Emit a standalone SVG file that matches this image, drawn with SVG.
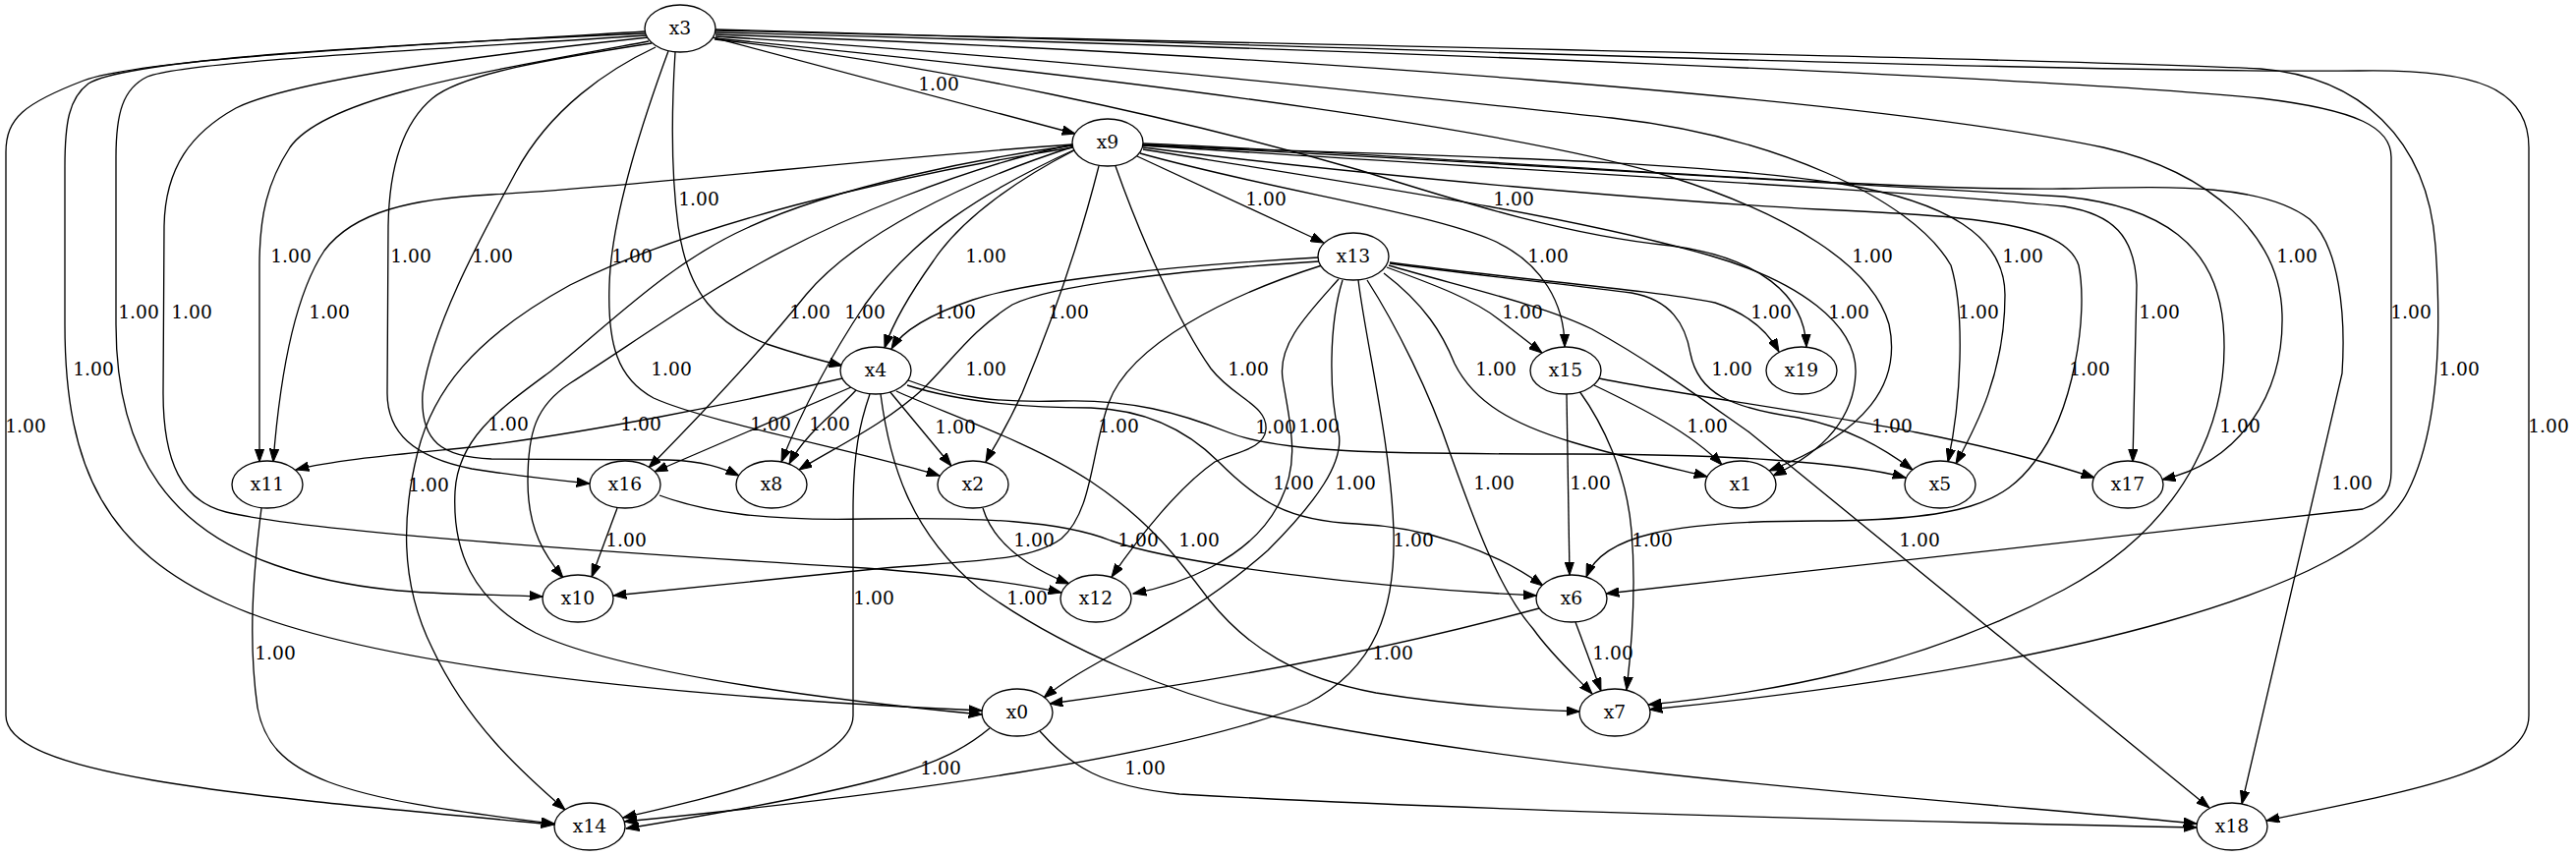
<svg xmlns="http://www.w3.org/2000/svg" width="2621" height="871" viewBox="0 0 2621 871">
<style>
.e path{fill:none;stroke:#000;stroke-width:1.33;marker-end:url(#ah)}
text{font-family:"DejaVu Serif","Liberation Serif",serif;font-size:18.67px;text-anchor:middle;fill:#000}
.n ellipse{fill:#fff;stroke:#000;stroke-width:1.33}
</style>
<defs>
<marker id="ah" viewBox="0 0 14 10" markerWidth="14" markerHeight="10" refX="13.3" refY="5" orient="auto" markerUnits="userSpaceOnUse">
<path d="M0,0.3 L13.3,5 L0,9.7 z" fill="#000" stroke="#000" stroke-width="1"/>
</marker>
</defs>
<rect width="2621" height="871" fill="#fff"/>
<g id="edges">
<g class="e" id="e3_9"><path d="M725,38 L1094,136"/><text x="955" y="92">1.00</text></g>
<g class="e" id="e3_4"><path d="M687,53 C684,100 682,170 690,230 C700,300 730,330 780,350 C810,360 835,367 857,372"/><text x="711" y="209">1.00</text></g>
<g class="e" id="e3_2"><path d="M680,52 C655,120 622,220 620,290 C618,350 628,385 665,405 C720,430 880,460 956,484"/><text x="643" y="267">1.00</text></g>
<g class="e" id="e3_8"><path d="M667,48 C620,70 560,110 525,175 C490,240 440,330 430,400 C427,450 450,465 500,467 L680,468 C715,469 735,476 752,484"/><text x="501" y="267">1.00</text></g>
<g class="e" id="e3_16"><path d="M663,44 C560,60 470,75 440,100 C410,125 396,170 395,230 L394,400 C394,440 420,465 480,477 C530,485 570,489 600,492"/><text x="418" y="267">1.00</text></g>
<g class="e" id="e3_11"><path d="M660,42 C480,75 330,100 295,150 C272,185 264,220 264,270 L264,470"/><text x="296" y="267">1.00</text></g>
<g class="e" id="e3_12"><path d="M660,38 C500,55 300,80 240,110 C195,135 168,170 167,230 L166,400 C166,470 185,510 230,521 C300,538 550,558 880,578 C960,584 1030,592 1080,603"/><text x="195" y="324">1.00</text></g>
<g class="e" id="e3_10"><path d="M658,36 C450,50 190,62 150,78 C125,90 118,115 118,160 L118,330 C118,470 180,540 280,575 S480,603 552,607"/><text x="141" y="324">1.00</text></g>
<g class="e" id="e3_0"><path d="M657,34 C400,45 130,60 90,85 C70,100 66,125 66,170 L66,330 C66,480 110,560 230,614 S600,705 999,723"/><text x="95" y="382">1.00</text></g>
<g class="e" id="e3_14"><path d="M656,32 C450,45 150,58 85,82 C25,105 6,120 6,155 L6,728 C6,790 250,810 564,839"/><text x="26" y="440">1.00</text></g>
<g class="e" id="e3_19"><path d="M727,40 C950,65 1200,120 1383,173 C1500,210 1600,240 1700,250 C1790,262 1836,300 1838,353"/><text x="1540" y="209">1.00</text></g>
<g class="e" id="e3_1"><path d="M728,39 C1200,85 1550,135 1700,180 C1820,218 1905,270 1922,330 C1935,390 1900,440 1800,479"/><text x="1905" y="267">1.00</text></g>
<g class="e" id="e3_5"><path d="M728,37 C1100,60 1450,100 1640,120 C1800,138 1945,200 1985,270 C2000,320 1995,410 1982,470"/><text x="2058" y="267">1.00</text></g>
<g class="e" id="e3_17"><path d="M728,35 C1300,55 1900,100 2140,150 C2250,175 2320,240 2322,320 C2324,400 2280,470 2200,488"/><text x="2337" y="267">1.00</text></g>
<g class="e" id="e3_6"><path d="M728,33 C1400,50 2100,80 2300,100 C2400,112 2433,130 2433,160 L2433,480 C2433,500 2425,510 2404,518 L1634,604"/><text x="2453" y="324">1.00</text></g>
<g class="e" id="e3_7"><path d="M728,31 C1300,45 2100,60 2300,70 C2400,78 2470,140 2478,250 C2485,350 2480,440 2450,500 C2400,600 2100,680 1678,722"/><text x="2502" y="382">1.00</text></g>
<g class="e" id="e3_18"><path d="M728,30 C1300,45 2100,75 2400,72 C2520,70 2573,90 2573,150 L2573,728 C2573,785 2450,805 2306,835"/><text x="2593" y="440">1.00</text></g>
<g class="e" id="e9_13"><path d="M1157,159 L1347,247"/><text x="1288" y="209">1.00</text></g>
<g class="e" id="e9_4"><path d="M1093,153 C1040,180 980,220 950,265 C925,300 908,330 900,354"/><text x="1003" y="267">1.00</text></g>
<g class="e" id="e9_2"><path d="M1118,169 C1095,260 1065,340 1040,400 C1022,440 1009,458 1003,470"/><text x="1087" y="324">1.00</text></g>
<g class="e" id="e9_8"><path d="M1094,152 C1000,195 930,240 880,310 C840,370 815,420 795,470"/><text x="880" y="324">1.00</text></g>
<g class="e" id="e9_16"><path d="M1093,149 C980,185 870,240 820,300 C780,350 715,420 660,476"/><text x="824" y="324">1.00</text></g>
<g class="e" id="e9_10"><path d="M1092,147 C980,170 850,225 773,268 S650,345 580,390 C545,413 537,440 537,490 C537,540 555,566 573,588"/><text x="683" y="382">1.00</text></g>
<g class="e" id="e9_0"><path d="M1092,148 C1000,160 850,190 760,232 C680,268 620,330 560,378 C510,415 466,445 463,500 C460,560 480,610 545,644 C620,680 800,708 999,727"/><text x="517" y="438">1.00</text></g>
<g class="e" id="e9_14"><path d="M1092,150 C900,180 700,230 580,290 C480,345 440,400 425,460 C410,520 405,590 440,660 C475,735 530,785 575,824"/><text x="436" y="500">1.00</text></g>
<g class="e" id="e9_11"><path d="M1091,147 C900,160 650,190 500,198 C420,202 360,215 330,255 C300,300 285,380 278,470"/><text x="335" y="324">1.00</text></g>
<g class="e" id="e9_12"><path d="M1135,169 C1160,240 1200,330 1232,375 C1255,405 1290,412 1288,437 C1286,458 1255,460 1236,470 C1200,495 1160,545 1131,587"/><text x="1270" y="382">1.00</text></g>
<g class="e" id="e9_15"><path d="M1160,156 C1300,195 1450,215 1520,245 C1570,268 1592,310 1592,353"/><text x="1575" y="267">1.00</text></g>
<g class="e" id="e9_1"><path d="M1163,152 C1400,190 1600,220 1740,260 C1830,286 1890,330 1888,380 C1886,430 1850,462 1804,484"/><text x="1881" y="324">1.00</text></g>
<g class="e" id="e9_5"><path d="M1163,148 C1400,158 1700,160 1873,187 C1980,205 2040,240 2040,300 C2040,380 2010,435 1990,472"/><text x="2013" y="324">1.00</text></g>
<g class="e" id="e9_6"><path d="M1163,150 C1400,180 1700,205 1850,213 C2000,220 2100,225 2115,270 C2125,320 2110,420 2070,470 C2040,510 2000,530 1850,530 C1700,530 1630,545 1614,587"/><text x="2126" y="382">1.00</text></g>
<g class="e" id="e9_17"><path d="M1163,148 C1500,170 1950,195 2100,210 C2150,218 2172,240 2174,290 L2170,470"/><text x="2197" y="324">1.00</text></g>
<g class="e" id="e9_7"><path d="M1163,147 C1500,165 1950,190 2100,200 C2200,210 2255,250 2262,330 C2270,420 2230,530 2100,600 C1950,680 1800,705 1677,717"/><text x="2279" y="440">1.00</text></g>
<g class="e" id="e9_18"><path d="M1163,146 C1500,160 1900,195 2100,192 C2200,190 2300,185 2350,223 C2380,250 2387,320 2383,380 L2281,818"/><text x="2393" y="498">1.00</text></g>
<g class="e" id="e13_4"><path d="M1341,262 C1200,270 1050,285 990,305 C940,322 916,340 907,355"/><text x="972" y="324">1.00</text></g>
<g class="e" id="e13_8"><path d="M1342,266 C1200,275 1070,290 1030,310 C990,335 970,365 940,395 C900,432 850,455 813,478"/><text x="1003" y="382">1.00</text></g>
<g class="e" id="e13_10"><path d="M1345,270 C1250,300 1150,350 1128,410 C1110,460 1112,520 1080,548 C1050,570 1000,570 900,578 C800,588 700,598 624,606"/><text x="1138" y="440">1.00</text></g>
<g class="e" id="e13_12"><path d="M1362,284 C1330,320 1300,350 1305,385 C1312,430 1325,470 1300,515 C1270,570 1200,595 1153,604"/><text x="1342" y="440">1.00</text></g>
<g class="e" id="e13_0"><path d="M1366,285 C1352,330 1352,400 1362,440 C1368,470 1340,510 1290,560 C1200,640 1110,670 1062,710"/><text x="1379" y="498">1.00</text></g>
<g class="e" id="e13_14"><path d="M1382,285 C1390,350 1415,450 1418,540 C1420,620 1400,680 1330,716 C1200,770 900,810 635,836"/><text x="1438" y="556">1.00</text></g>
<g class="e" id="e13_7"><path d="M1391,285 C1420,330 1455,400 1475,460 C1500,530 1525,600 1560,640 C1580,668 1603,688 1620,706"/><text x="1520" y="498">1.00</text></g>
<g class="e" id="e13_1"><path d="M1408,278 C1450,310 1468,340 1480,370 C1500,410 1540,432 1600,450 C1650,465 1700,476 1737,485"/><text x="1522" y="382">1.00</text></g>
<g class="e" id="e13_15"><path d="M1411,272 C1460,290 1500,305 1525,325 C1545,340 1557,350 1569,359"/><text x="1549" y="324">1.00</text></g>
<g class="e" id="e13_19"><path d="M1414,267 C1550,285 1680,295 1745,308 C1775,318 1797,334 1810,358"/><text x="1802" y="324">1.00</text></g>
<g class="e" id="e13_5"><path d="M1414,268 C1500,280 1600,290 1660,298 C1700,305 1715,330 1720,360 C1728,400 1760,415 1830,425 C1880,435 1915,455 1946,478"/><text x="1762" y="382">1.00</text></g>
<g class="e" id="e13_18"><path d="M1413,270 C1480,290 1570,310 1620,335 C1680,368 1730,405 1780,440 L2248,822"/><text x="1953" y="556">1.00</text></g>
<g class="e" id="e4_11"><path d="M857,385 C750,410 600,440 480,455 C400,463 340,468 301,478"/><text x="652" y="438">1.00</text></g>
<g class="e" id="e4_16"><path d="M866,394 L666,480"/><text x="784" y="438">1.00</text></g>
<g class="e" id="e4_8"><path d="M871,397 C850,420 820,440 803,472"/><text x="844" y="438">1.00</text></g>
<g class="e" id="e4_2"><path d="M905,398 L968,474"/><text x="972" y="441">1.00</text></g>
<g class="e" id="e4_5"><path d="M924,387 C970,405 1020,410 1080,408 C1150,406 1200,420 1250,440 C1300,460 1400,462 1600,462 C1750,462 1880,470 1939,486"/><text x="1298" y="441">1.00</text></g>
<g class="e" id="e4_6"><path d="M923,392 C980,410 1050,415 1110,415 C1170,417 1210,440 1240,470 C1280,510 1310,530 1380,533 C1450,536 1520,560 1570,596"/><text x="1316" y="498">1.00</text></g>
<g class="e" id="e4_7"><path d="M912,398 C960,420 1050,450 1110,490 C1170,530 1200,570 1230,610 C1270,660 1320,690 1400,705 C1480,718 1550,722 1607,724"/><text x="1220" y="556">1.00</text></g>
<g class="e" id="e4_14"><path d="M885,401 C875,430 868,460 868,520 L868,728 C868,780 720,812 634,832"/><text x="889" y="615">1.00</text></g>
<g class="e" id="e4_18"><path d="M896,401 C905,470 925,540 995,598 C1080,660 1200,710 1300,730 C1600,790 2000,815 2235,838"/><text x="1045" y="615">1.00</text></g>
<g class="e" id="e15_6"><path d="M1594,401 L1597,585"/><text x="1618" y="498">1.00</text></g>
<g class="e" id="e15_7"><path d="M1607,398 C1630,430 1655,480 1660,540 C1665,600 1660,660 1655,702"/><text x="1681" y="556">1.00</text></g>
<g class="e" id="e15_1"><path d="M1622,392 C1670,415 1720,440 1752,473"/><text x="1737" y="440">1.00</text></g>
<g class="e" id="e15_17"><path d="M1627,385 C1700,400 1850,420 1950,440 C2050,460 2100,476 2131,486"/><text x="1925" y="440">1.00</text></g>
<g class="e" id="e11_14"><path d="M266,517 C258,580 252,650 262,720 C275,790 340,812 564,838"/><text x="280" y="671">1.00</text></g>
<g class="e" id="e16_10"><path d="M628,517 L602,587"/><text x="637" y="556">1.00</text></g>
<g class="e" id="e16_6"><path d="M671,504 C720,522 780,530 880,528 C1000,526 1080,530 1130,550 C1200,575 1400,598 1563,606"/><text x="1158" y="556">1.00</text></g>
<g class="e" id="e2_12"><path d="M1000,517 C1010,550 1040,575 1088,594"/><text x="1052" y="556">1.00</text></g>
<g class="e" id="e6_0"><path d="M1566,619 C1450,650 1300,685 1068,716"/><text x="1417" y="671">1.00</text></g>
<g class="e" id="e6_7"><path d="M1603,633 L1629,703"/><text x="1641" y="671">1.00</text></g>
<g class="e" id="e0_14"><path d="M1007,741 C960,780 900,800 637,843"/><text x="957" y="788">1.00</text></g>
<g class="e" id="e0_18"><path d="M1058,744 C1090,780 1120,800 1200,808 C1500,825 1900,835 2235,842"/><text x="1165" y="788">1.00</text></g>
</g>
<g id="x3" class="n"><ellipse cx="692" cy="29" rx="36" ry="24"/><text x="692" y="35">x3</text></g>
<g id="x9" class="n"><ellipse cx="1127" cy="145" rx="36" ry="24"/><text x="1127" y="151">x9</text></g>
<g id="x13" class="n"><ellipse cx="1377" cy="261" rx="36" ry="24"/><text x="1377" y="267">x13</text></g>
<g id="x4" class="n"><ellipse cx="891" cy="377" rx="36" ry="24"/><text x="891" y="383">x4</text></g>
<g id="x15" class="n"><ellipse cx="1593" cy="377" rx="36" ry="24"/><text x="1593" y="383">x15</text></g>
<g id="x19" class="n"><ellipse cx="1833" cy="377" rx="36" ry="24"/><text x="1833" y="383">x19</text></g>
<g id="x11" class="n"><ellipse cx="272" cy="493" rx="36" ry="24"/><text x="272" y="499">x11</text></g>
<g id="x16" class="n"><ellipse cx="636" cy="493" rx="36" ry="24"/><text x="636" y="499">x16</text></g>
<g id="x8" class="n"><ellipse cx="785" cy="493" rx="36" ry="24"/><text x="785" y="499">x8</text></g>
<g id="x2" class="n"><ellipse cx="990" cy="493" rx="36" ry="24"/><text x="990" y="499">x2</text></g>
<g id="x1" class="n"><ellipse cx="1771" cy="493" rx="36" ry="24"/><text x="1771" y="499">x1</text></g>
<g id="x5" class="n"><ellipse cx="1974" cy="493" rx="36" ry="24"/><text x="1974" y="499">x5</text></g>
<g id="x17" class="n"><ellipse cx="2165" cy="493" rx="36" ry="24"/><text x="2165" y="499">x17</text></g>
<g id="x10" class="n"><ellipse cx="588" cy="609" rx="36" ry="24"/><text x="588" y="615">x10</text></g>
<g id="x12" class="n"><ellipse cx="1115" cy="609" rx="36" ry="24"/><text x="1115" y="615">x12</text></g>
<g id="x6" class="n"><ellipse cx="1599" cy="609" rx="36" ry="24"/><text x="1599" y="615">x6</text></g>
<g id="x0" class="n"><ellipse cx="1035" cy="725" rx="36" ry="24"/><text x="1035" y="731">x0</text></g>
<g id="x7" class="n"><ellipse cx="1643" cy="725" rx="36" ry="24"/><text x="1643" y="731">x7</text></g>
<g id="x14" class="n"><ellipse cx="600" cy="841" rx="36" ry="24"/><text x="600" y="847">x14</text></g>
<g id="x18" class="n"><ellipse cx="2271" cy="841" rx="36" ry="24"/><text x="2271" y="847">x18</text></g>
</svg>
